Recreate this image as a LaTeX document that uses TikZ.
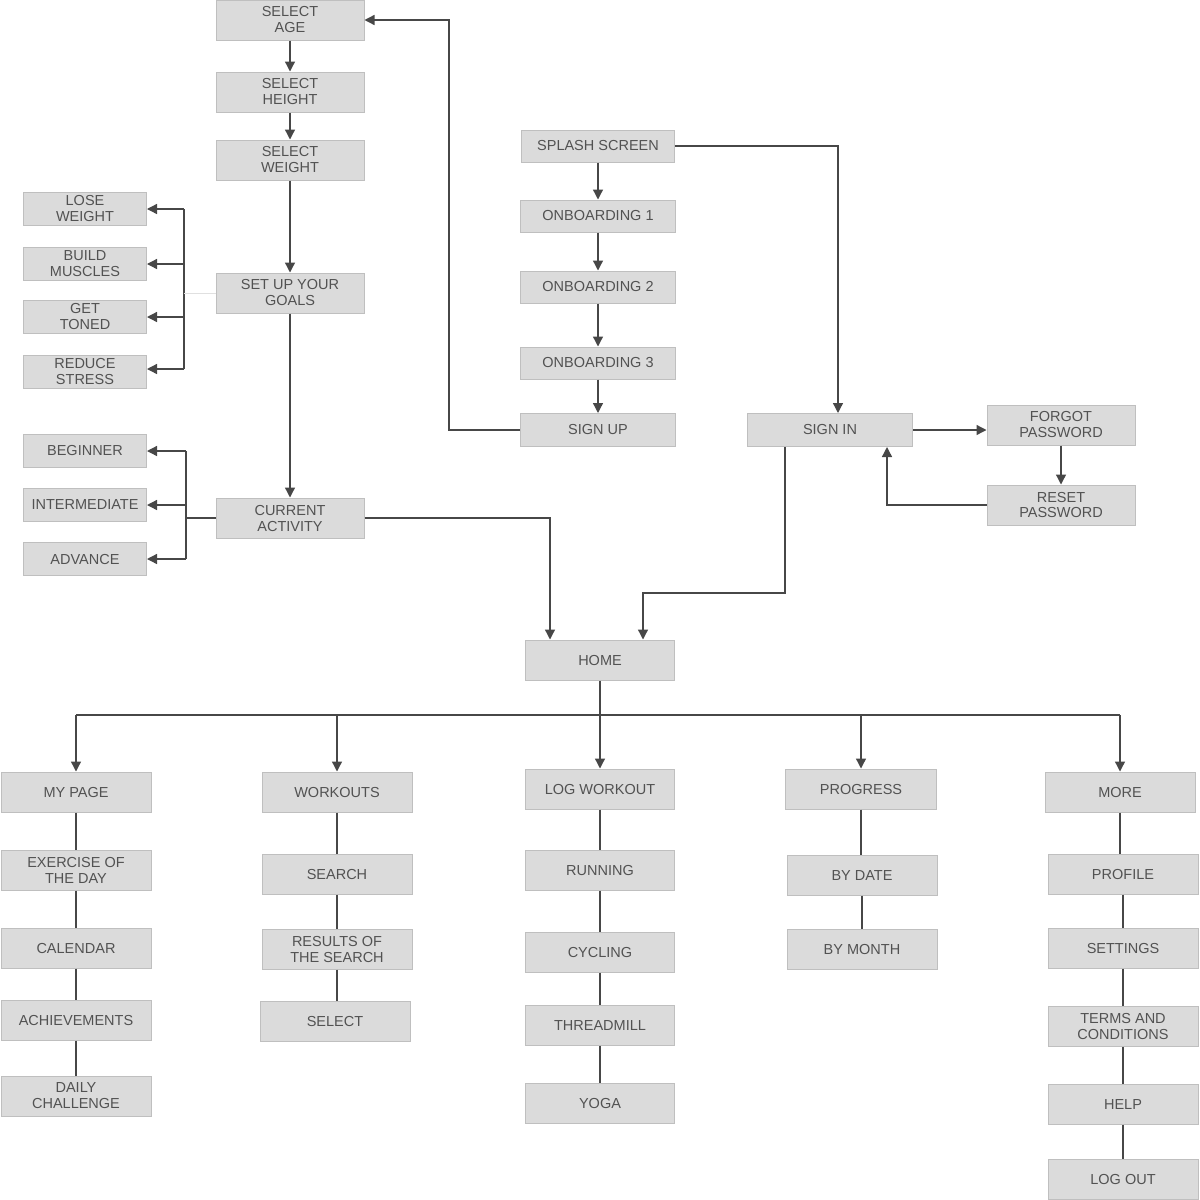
\documentclass[tikz,border=0pt]{standalone}
\usepackage{fontspec}
\setmainfont{Liberation Sans}
\usetikzlibrary{arrows.meta}
\usetikzlibrary{positioning}
\tikzset{box/.style = {draw=black!25, fill=black!14, text=black!68, line width=1pt, inner sep=1pt, minimum width=148, minimum height=40, align=center, font=\fontsize{14.5}{16}\selectfont}}
\tikzset{choice/.style = {box, minimum width=123, minimum height=33}}
\tikzset{link/.style = {draw=black!72, line width=1.3pt}}
\tikzset{arr/.style = {link, -{Triangle[length=10pt, width=10pt]}}}
\tikzset{faint/.style = {draw=black!12, line width=0.8pt}}

\begin{document}
\begin{tikzpicture}[x=1pt, y=-1pt]
      \useasboundingbox (0,0) rectangle (1200,1200);

      % profile set-up
      \node [box] (age) at (290, 20) {SELECT\\AGE};
      \node [box] (height) at (290, 92) {SELECT\\HEIGHT};
      \node [box] (weight) at (290, 160) {SELECT\\WEIGHT};
      \node [box] (goals) at (290, 293) {SET UP YOUR\\GOALS};
      \node [box] (activity) at (290, 518) {CURRENT\\ACTIVITY};

      \node [choice] (lose) at (85, 209) {LOSE\\WEIGHT};
      \node [choice] (build) at (85, 264) {BUILD\\MUSCLES};
      \node [choice] (toned) at (85, 317) {GET\\TONED};
      \node [choice] (stress) at (85, 372) {REDUCE\\STRESS};

      \node [choice] (beginner) at (85, 451) {BEGINNER};
      \node [choice] (inter) at (85, 505) {INTERMEDIATE};
      \node [choice] (advance) at (85, 559) {ADVANCE};

      % start and login
      \node [box, minimum width=153, minimum height=32] (splash) at (598, 146) {SPLASH SCREEN};
      \node [box, minimum width=155, minimum height=32] (onb1) at (598, 216) {ONBOARDING 1};
      \node [box, minimum width=155, minimum height=32] (onb2) at (598, 287) {ONBOARDING 2};
      \node [box, minimum width=155, minimum height=32] (onb3) at (598, 363) {ONBOARDING 3};
      \node [box, minimum width=155, minimum height=33] (signup) at (598, 430) {SIGN UP};
      \node [box, minimum width=165, minimum height=33] (signin) at (830, 430) {SIGN IN};
      \node [box] (forgot) at (1061, 425) {FORGOT\\PASSWORD};
      \node [box] (reset) at (1061, 505) {RESET\\PASSWORD};

      \node [box, minimum width=149] (home) at (600, 660) {HOME};

      % main sections
      \node [box, minimum width=150] (mypage) at (76, 792) {MY PAGE};
      \node [box, minimum width=150] (exday) at (76, 870) {EXERCISE OF\\THE DAY};
      \node [box, minimum width=150] (calendar) at (76, 948) {CALENDAR};
      \node [box, minimum width=150] (achieve) at (76, 1020) {ACHIEVEMENTS};
      \node [box, minimum width=150] (daily) at (76, 1096) {DAILY\\CHALLENGE};

      \node [box, minimum width=150] (workouts) at (337, 792) {WORKOUTS};
      \node [box, minimum width=150] (search) at (337, 874) {SEARCH};
      \node [box, minimum width=150] (results) at (337, 949) {RESULTS OF\\THE SEARCH};
      \node [box, minimum width=150] (select) at (335, 1021) {SELECT};

      \node [box, minimum width=149] (logw) at (600, 789) {LOG WORKOUT};
      \node [box, minimum width=149] (running) at (600, 870) {RUNNING};
      \node [box, minimum width=149] (cycling) at (600, 952) {CYCLING};
      \node [box, minimum width=149] (tread) at (600, 1025) {THREADMILL};
      \node [box, minimum width=149] (yoga) at (600, 1103) {YOGA};

      \node [box, minimum width=151] (progress) at (861, 789) {PROGRESS};
      \node [box, minimum width=150] (bydate) at (862, 875) {BY DATE};
      \node [box, minimum width=150] (bymonth) at (862, 949) {BY MONTH};

      \node [box, minimum width=150] (more) at (1120, 792) {MORE};
      \node [box, minimum width=150] (profile) at (1123, 874) {PROFILE};
      \node [box, minimum width=150] (settings) at (1123, 948) {SETTINGS};
      \node [box, minimum width=150] (terms) at (1123, 1026) {TERMS AND\\CONDITIONS};
      \node [box, minimum width=150] (help) at (1123, 1104) {HELP};
      \node [box, minimum width=150] (logout) at (1123, 1179) {LOG OUT};

      % set-up chain
      \draw [arr] (age) -- (height);
      \draw [arr] (height) -- (weight);
      \draw [arr] (weight) -- (goals);
      \draw [arr] (goals) -- (activity);

      \coordinate (gbar) at (184, 209);
      \draw [link] (gbar) -- (gbar |- 0, 369);
      \foreach \n in {lose, build, toned} {
        \draw [arr] (\n.east -| gbar) -- (\n.east);
      }
      \draw [arr] (gbar |- 0, 369) -- (stress.east |- 0, 369);
      \draw [faint] (goals.west) -- (goals.west -| gbar);

      \coordinate (abar) at (186, 451);
      \draw [link] (abar) -- (abar |- advance.east);
      \foreach \n in {beginner, inter, advance} {
        \draw [arr] (\n.east -| abar) -- (\n.east);
      }
      \draw [link] (activity.west) -- (activity.west -| abar);

      % start and login links
      \draw [arr] (splash) -- (onb1);
      \draw [arr] (onb1) -- (onb2);
      \draw [arr] (onb2) -- (onb3);
      \draw [arr] (onb3) -- (signup);
      \draw [arr] (signup.west) -- ++(-71, 0) |- (age.east);
      \draw [arr] (splash.east) -| ([xshift=8pt]signin.north);
      \draw [arr] (signin.east) -- (signin.east -| forgot.west);
      \draw [arr] (forgot) -- (reset);
      \draw [arr] (reset.west) -| ([xshift=57pt]signin.south);
      \draw [arr] ([xshift=-45pt]signin.south) -- ++(0, 146) -| ([xshift=43pt]home.north);
      \draw [arr] (activity.east) -| ([xshift=-50pt]home.north);

      % home to sections
      \coordinate (bus) at (600, 715);
      \draw [link] (home.south) -- (bus);
      \draw [link] (mypage.north |- bus) -- (more.north |- bus);
      \foreach \n in {mypage, workouts, logw, progress, more} {
        \draw [arr] (\n.north |- bus) -- (\n.north);
      }

      \foreach \a/\b in {mypage/exday, exday/calendar, calendar/achieve, achieve/daily,
                         workouts/search, search/results, results/select,
                         logw/running, running/cycling, cycling/tread, tread/yoga,
                         progress/bydate, bydate/bymonth,
                         more/profile, profile/settings, settings/terms, terms/help, help/logout} {
        \draw [link] (\a.south) -- (\a.south |- \b.north);
      }
    \end{tikzpicture}
\end{document}
